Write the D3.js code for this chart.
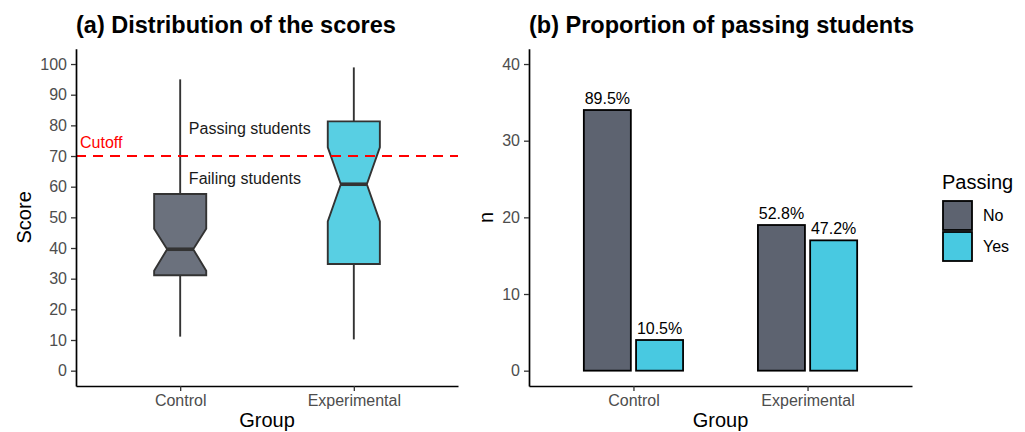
<!DOCTYPE html>
<html>
<head>
<meta charset="utf-8">
<script src="https://cdn.jsdelivr.net/npm/d3@7"></script>
<style>
  body { margin: 0; background: #fff; }
  svg { font-family: "Liberation Sans", Arial, sans-serif; }
  .tick text { fill: #4d4d4d; font-size: 16px; }
  .tick line { stroke: #333; stroke-width: 1.3px; }
  .domain { stroke: #000; stroke-width: 1.7px; }
</style>
</head>
<body>
<div id="chart"></div>
<script>
// ---- data: panel (a) boxplot ----
const groups = ["Control", "Experimental"];
const whiskerLow = [11.1, 10.2];
const q1 = [31.1, 34.8];
const notchLow = [32.6, 48.7];
const median = [39.6, 60.8];
const notchHigh = [46.3, 72.8];
const q3 = [57.6, 81.3];
const whiskerHigh = [95, 98.9];
const cutoff = 70;
const scoreTicks = [0, 10, 20, 30, 40, 50, 60, 70, 80, 90, 100];

// ---- data: panel (b) counts ----
const passing = ["No", "Yes"];
const countControl = [34, 4];
const countExperimental = [19, 17];
const countTicks = [0, 10, 20, 30, 40];

const boxFill = ["#6b717d", "#58cfe3"];
const barFill = ["#5d6370", "#48c9e1"];

const W = 1025, H = 432;
const svg = d3.select("#chart").append("svg")
  .attr("width", W)
  .attr("height", H);

// ================= panel (a) =================
const xA = d3.scaleLinear().domain([0.4, 2.6]).range([76, 458]);
const yA = d3.scaleLinear().domain([-5, 105]).range([386, 48.7]);

const gA = svg.append("g");

// boxes
const boxW = 0.3;
groups.forEach(function(g, i) {
  const cx = xA(i + 1);
  const half = (xA(1 + boxW / 2) - xA(1));
  const inset = half * 0.5;
  // whiskers
  gA.append("line")
    .attr("x1", cx).attr("x2", cx)
    .attr("y1", yA(whiskerHigh[i])).attr("y2", yA(q3[i]))
    .attr("stroke", "#333").attr("stroke-width", 1.9);
  gA.append("line")
    .attr("x1", cx).attr("x2", cx)
    .attr("y1", yA(q1[i])).attr("y2", yA(whiskerLow[i]))
    .attr("stroke", "#333").attr("stroke-width", 1.9);
  // notched box
  const l = cx - half, r = cx + half;
  const pts = [
    [l, yA(q3[i])], [r, yA(q3[i])], [r, yA(notchHigh[i])],
    [r - inset, yA(median[i])], [r, yA(notchLow[i])], [r, yA(q1[i])],
    [l, yA(q1[i])], [l, yA(notchLow[i])], [l + inset, yA(median[i])],
    [l, yA(notchHigh[i])]
  ];
  gA.append("path")
    .attr("d", d3.line()(pts) + "Z")
    .attr("fill", boxFill[i])
    .attr("stroke", "#333")
    .attr("stroke-width", 1.9)
    .attr("stroke-linejoin", "miter");
  gA.append("line")
    .attr("x1", l + inset).attr("x2", r - inset)
    .attr("y1", yA(median[i])).attr("y2", yA(median[i]))
    .attr("stroke", "#333").attr("stroke-width", 3.6);
});

// cutoff line
gA.append("line")
  .attr("x1", xA(0.4)).attr("x2", xA(2.6))
  .attr("y1", yA(cutoff)).attr("y2", yA(cutoff))
  .attr("stroke", "#ff0000")
  .attr("stroke-width", 2)
  .attr("stroke-dasharray", "10,7");

gA.append("text")
  .attr("x", xA(0.423)).attr("y", yA(72.5))
  .attr("fill", "#ff0000").style("font-size", "16px")
  .text("Cutoff");

gA.append("text")
  .attr("x", xA(1.05)).attr("y", yA(77.2))
  .attr("fill", "#1a1a1a").style("font-size", "16px")
  .text("Passing students");
gA.append("text")
  .attr("x", xA(1.05)).attr("y", yA(60.9))
  .attr("fill", "#1a1a1a").style("font-size", "16px")
  .text("Failing students");

// axes
gA.append("g")
  .attr("transform", "translate(76,0)")
  .call(d3.axisLeft(yA).tickValues(scoreTicks).tickSize(5).tickPadding(4).tickSizeOuter(0));
gA.append("g")
  .attr("transform", "translate(0,386)")
  .call(d3.axisBottom(xA).tickValues([1, 2]).tickFormat(function(d) { return groups[d - 1]; })
    .tickSize(5).tickPadding(4).tickSizeOuter(0));

gA.append("text")
  .attr("x", 76).attr("y", 33)
  .style("font-size", "23.5px").style("font-weight", "bold")
  .text("(a) Distribution of the scores");
gA.append("text")
  .attr("transform", "translate(31," + ((386 + 48.7) / 2) + ") rotate(-90)")
  .attr("text-anchor", "middle")
  .style("font-size", "20px")
  .text("Score");
gA.append("text")
  .attr("x", (76 + 458) / 2).attr("y", 427)
  .attr("text-anchor", "middle")
  .style("font-size", "20px")
  .text("Group");

// ================= panel (b) =================
const xB = d3.scaleLinear().domain([0.4, 2.6]).range([529, 912]);
const yB = d3.scaleLinear().domain([-2, 42]).range([386, 48.7]);
const gB = svg.append("g");

const barRows = [];
[countControl, countExperimental].forEach(function(counts, gi) {
  const total = d3.sum(counts);
  counts.forEach(function(c, pi) {
    barRows.push({ group: gi + 1, pass: pi, n: c, pct: (c / total * 100).toFixed(1) + "%" });
  });
});

const dodgeW = 0.6, pad = 0.1;
const slot = dodgeW / passing.length;
const barW = slot * (1 - pad);

gB.selectAll("rect.bar")
  .data(barRows)
  .enter().append("rect")
  .attr("class", "bar")
  .attr("x", function(d) { return xB(d.group - dodgeW / 2 + slot * d.pass + (slot - barW) / 2); })
  .attr("width", function() { return xB(1 + barW) - xB(1); })
  .attr("y", function(d) { return yB(d.n); })
  .attr("height", function(d) { return yB(0) - yB(d.n); })
  .attr("fill", function(d) { return barFill[d.pass]; })
  .attr("stroke", "#000")
  .attr("stroke-width", 1.8);

gB.selectAll("text.lab")
  .data(barRows)
  .enter().append("text")
  .attr("class", "lab")
  .attr("x", function(d) { return xB(d.group - dodgeW / 2 + slot * d.pass + slot / 2); })
  .attr("y", function(d) { return yB(d.n) - 6; })
  .attr("text-anchor", "middle")
  .style("font-size", "16px")
  .attr("fill", "#000")
  .text(function(d) { return d.pct; });

gB.append("g")
  .attr("transform", "translate(529,0)")
  .call(d3.axisLeft(yB).tickValues(countTicks).tickSize(5).tickPadding(4).tickSizeOuter(0));
gB.append("g")
  .attr("transform", "translate(0,386)")
  .call(d3.axisBottom(xB).tickValues([1, 2]).tickFormat(function(d) { return groups[d - 1]; })
    .tickSize(5).tickPadding(4).tickSizeOuter(0));

gB.append("text")
  .attr("x", 529).attr("y", 33)
  .style("font-size", "23.5px").style("font-weight", "bold")
  .text("(b) Proportion of passing students");
gB.append("text")
  .attr("transform", "translate(493," + ((386 + 48.7) / 2) + ") rotate(-90)")
  .attr("text-anchor", "middle")
  .style("font-size", "20px")
  .text("n");
gB.append("text")
  .attr("x", (529 + 912) / 2).attr("y", 427)
  .attr("text-anchor", "middle")
  .style("font-size", "20px")
  .text("Group");

// legend
const leg = svg.append("g").attr("transform", "translate(942,0)");
leg.append("text")
  .attr("x", 0).attr("y", 189)
  .style("font-size", "20px")
  .text("Passing");
passing.forEach(function(p, i) {
  leg.append("rect")
    .attr("x", 1).attr("y", 201 + i * 31)
    .attr("width", 29).attr("height", 29)
    .attr("fill", barFill[i])
    .attr("stroke", "#000")
    .attr("stroke-width", 1.8);
  leg.append("text")
    .attr("x", 41).attr("y", 201 + i * 31 + 14.5)
    .attr("dy", "0.35em")
    .style("font-size", "16px")
    .text(p);
});
</script>
</body>
</html>
